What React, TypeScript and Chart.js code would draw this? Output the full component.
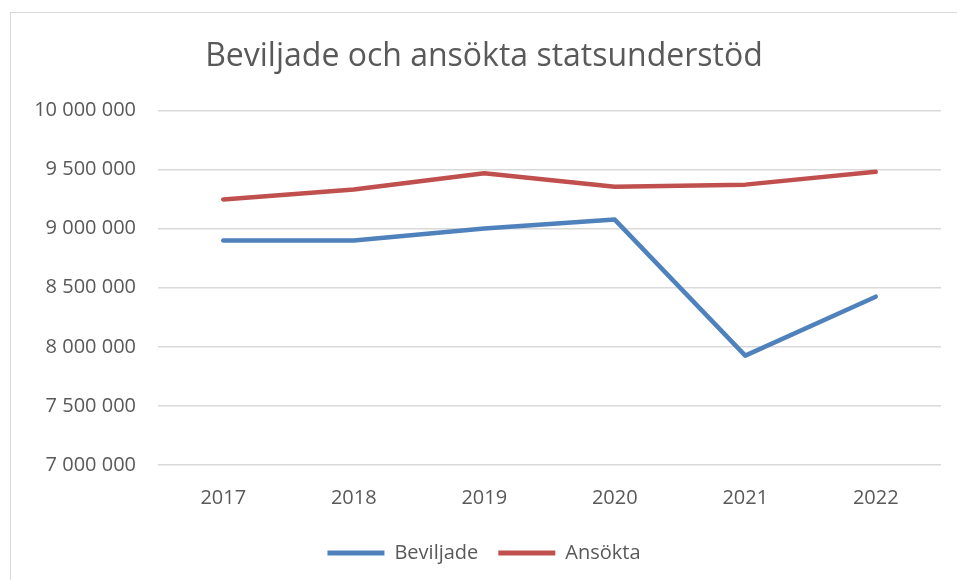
import React, { useEffect, useRef } from "react";
import { Chart, registerables } from "chart.js";

Chart.register(...registerables);

const years = ["2017", "2018", "2019", "2020", "2021", "2022"];
const beviljade = [8900000, 8900000, 9000000, 9076000, 7925000, 8424000];
const ansokta = [9247000, 9330000, 9468000, 9355000, 9372000, 9480000];
const yTickValues = [7000000, 7500000, 8000000, 8500000, 9000000, 9500000, 10000000];

const BLUE = "#4F81BD";
const RED = "#C0504D";
const TEXT = "#595959";
const FONT = "'Open Sans', sans-serif";

const fmt = (v: number) => String(Math.round(v)).replace(/\B(?=(\d{3})+(?!\d))/g, " ");

export default function App() {
  const ref = useRef<HTMLCanvasElement | null>(null);
  useEffect(() => {
    if (!ref.current) return;
    const chart = new Chart(ref.current, {
      type: "line",
      data: {
        labels: years,
        datasets: [
          {
            label: "Beviljade",
            data: beviljade,
            borderColor: BLUE,
            backgroundColor: BLUE,
            borderWidth: 4.5,
            pointRadius: 0,
            tension: 0,
            borderCapStyle: "round",
            borderJoinStyle: "round",
          },
          {
            label: "Ansökta",
            data: ansokta,
            borderColor: RED,
            backgroundColor: RED,
            borderWidth: 4.5,
            pointRadius: 0,
            tension: 0,
            borderCapStyle: "round",
            borderJoinStyle: "round",
          },
        ],
      },
      options: {
        animation: false,
        responsive: false,
        layout: { padding: { left: 27, right: 16, top: 0, bottom: 7 } },
        plugins: {
          title: {
            display: true,
            text: "Beviljade och ansökta statsunderstöd",
            color: TEXT,
            font: { family: FONT, size: 32, weight: "normal" },
            padding: { top: 38, bottom: 34 },
          },
          legend: {
            position: "bottom",
            labels: {
              color: TEXT,
              font: { family: FONT, size: 20 },
              boxWidth: 57,
              boxHeight: 5,
              padding: 20,
              generateLabels: (c: any) =>
                c.data.datasets.map((d: any, i: number) => ({
                  text: d.label,
                  fillStyle: d.borderColor,
                  strokeStyle: d.borderColor,
                  lineWidth: 0,
                  fontColor: TEXT,
                  datasetIndex: i,
                  hidden: false,
                })),
            },
          },
          tooltip: { enabled: false },
        },
        scales: {
          x: {
            offset: true,
            grid: { display: false },
            border: { display: false },
            ticks: { color: TEXT, font: { family: FONT, size: 20 }, padding: 13 },
          },
          y: {
            min: 7000000,
            max: 10000000,
            afterFit: (s: any) => {
              s.width = 131;
            },
            afterBuildTicks: (s: any) => {
              s.ticks = yTickValues.map((v) => ({ value: v }));
            },
            grid: { color: "#D9D9D9", lineWidth: 1.5, drawTicks: false },
            border: { display: false },
            ticks: {
              color: TEXT,
              font: { family: FONT, size: 20 },
              padding: 22,
              callback: (v: any) => fmt(Number(v)),
            },
          },
        },
      },
    });
    return () => chart.destroy();
  }, []);
  return (
    <div style={{ position: "fixed", left: 0, top: 0, width: 957, height: 580, background: "#fff" }}>
      <div
        style={{
          position: "absolute",
          left: 10,
          top: 12,
          width: 980,
          height: 600,
          border: "1.5px solid #D9D9D9",
          boxSizing: "border-box",
        }}
      />
      <canvas ref={ref} width={957} height={580} style={{ position: "absolute", left: 0, top: 0 }} />
    </div>
  );
}
